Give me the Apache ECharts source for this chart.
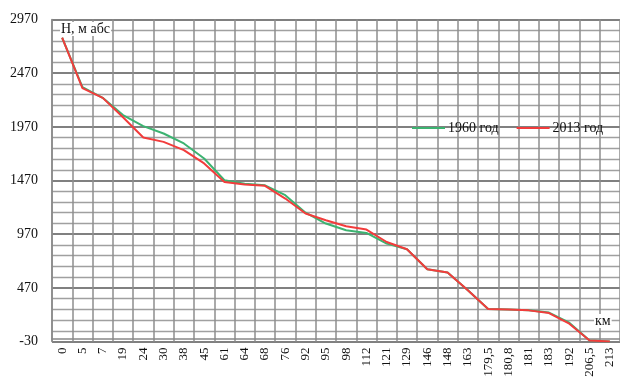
<!DOCTYPE html>
<html><head><meta charset="utf-8">
<script src="https://cdn.jsdelivr.net/npm/echarts@6/dist/echarts.min.js"></script>
<style>html,body{margin:0;padding:0;background:#fff}#c{width:620px;height:390px}</style>
</head><body><div id="c"></div>
<script>
const categories = ['0','5','7','19','24','30','38','45','61','64','68','76','92','95','98','112','121','129','146','148','163','179,5','180,8','181','183','192','206,5','213'];
const series1960 = [2800, 2340, 2240, 2080, 1977, 1908, 1815, 1675, 1473, 1440, 1425, 1333, 1170, 1069, 1006, 981, 882, 829, 643, 612, 447, 272, 267, 262, 240, 145, -20, -30];
const series2013 = [2800, 2330, 2240, 2060, 1870, 1830, 1753, 1629, 1457, 1433, 1420, 1302, 1162, 1100, 1044, 1013, 897, 829, 643, 612, 447, 272, 267, 260, 235, 136, -20, -30];
const yMin = -30, yMax = 2970, yStep = 500;

const serif = '"Liberation Serif", "DejaVu Serif", serif';
const chart = echarts.init(document.getElementById('c'), null, {renderer: 'canvas'});
chart.setOption({
  animation: false,
  backgroundColor: '#fff',
  grid: {left: 52, top: 19.5, width: 572, height: 322, containLabel: false},
  legend: {
    left: 407, top: 116, itemGap: 18, itemWidth: 33, itemHeight: 2, icon: 'rect',
    textStyle: {fontFamily: serif, fontSize: 14, color: '#111', padding: [0,0,0,-2]},
    data: ['1960 год', '2013 год']
  },
  xAxis: {
    type: 'category', data: categories, boundaryGap: true,
    axisLine: {show: true, lineStyle: {color: '#888', width: 1.5}},
    axisTick: {show: false},
    axisLabel: {rotate: 90, interval: 0, margin: 6, fontFamily: serif, fontSize: 13, color: '#111'},
    splitLine: {show: true, interval: 0, lineStyle: {color: '#8e8e8e', width: 1.5}}
  },
  yAxis: {
    type: 'value', min: yMin, max: yMax, interval: yStep,
    axisLine: {show: true, lineStyle: {color: '#888', width: 1.5}},
    axisTick: {show: false},
    axisLabel: {margin: 14, fontFamily: serif, fontSize: 14, color: '#111', formatter: v => String(v)},
    splitLine: {show: true, lineStyle: {color: '#808080', width: 2}},
    minorTick: {show: false, splitNumber: 5},
    minorSplitLine: {show: true, lineStyle: {color: '#a0a0a0', width: 1.3}}
  },
  series: [
    {name: '1960 год', type: 'line', data: series1960, symbol: 'none', lineStyle: {color: '#3cb371', width: 2}, itemStyle: {color: '#3cb371'}, z: 2},
    {name: '2013 год', type: 'line', data: series2013, symbol: 'none', lineStyle: {color: '#f23c3c', width: 2}, itemStyle: {color: '#f23c3c'}, z: 3}
  ],
  graphic: [
    {type: 'text', left: 60, top: 22, z: 10, style: {text: 'H, м абс', font: '14px ' + serif, fill: '#111', backgroundColor: '#fff', padding: [0,1,0,1]}},
    {type: 'text', left: 594, top: 314, z: 10, style: {text: 'км', font: '14px ' + serif, fill: '#111', backgroundColor: '#fff', padding: [0,1,0,1]}}
  ]
});
</script></body></html>
